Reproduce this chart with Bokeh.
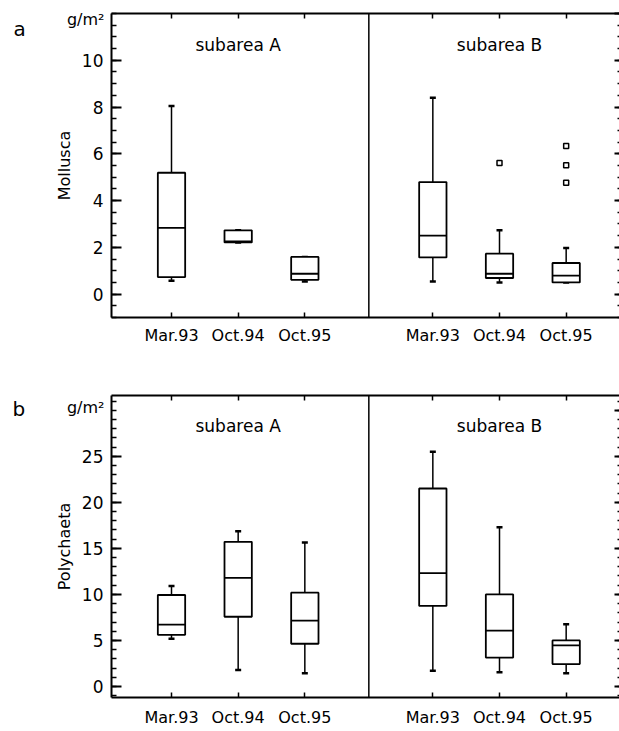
from bokeh.plotting import figure
from bokeh.models import Range1d, FixedTicker, LinearAxis, Span, Label, ColumnDataSource
from bokeh.layouts import column
from bokeh.embed import file_html
from bokeh.resources import INLINE

periods = ["Mar.93", "Oct.94", "Oct.95"]
subareas = ["subarea A", "subarea B"]
group_start = [1.0, 4.92]
divider_x = 3.96

# Mollusca g/m2  [subarea A, subarea B] x [Mar.93, Oct.94, Oct.95]
moll_lo = [[0.57, 2.21, 0.54], [0.54, 0.50, 0.50]]
moll_q1 = [[0.73, 2.21, 0.61], [1.57, 0.69, 0.50]]
moll_med = [[2.83, 2.25, 0.87], [2.50, 0.87, 0.79]]
moll_q3 = [[5.19, 2.73, 1.59], [4.79, 1.73, 1.33]]
moll_hi = [[8.04, 2.73, 1.59], [8.40, 2.73, 1.97]]
moll_out = [[[], [], []], [[], [5.61], [6.33, 5.51, 4.76]]]

# Polychaeta g/m2
poly_lo = [[5.18, 1.79, 1.43], [1.71, 1.54, 1.43]]
poly_q1 = [[5.61, 7.57, 4.64], [8.75, 3.14, 2.43]]
poly_med = [[6.71, 11.79, 7.14], [12.30, 6.07, 4.46]]
poly_q3 = [[9.93, 15.71, 10.18], [21.50, 10.00, 5.00]]
poly_hi = [[10.90, 16.86, 15.64], [25.50, 17.30, 6.75]]
poly_out = [[[], [], []], [[], [], []]]

moll_ticks = [0, 2, 4, 6, 8, 10]
moll_right_ticks = [0, 2, 4, 6, 8, 10, 12]
poly_ticks = [0, 5, 10, 15, 20, 25]
poly_right_ticks = [0, 5, 10, 15, 20, 25, 30]

FONT = "DejaVu Sans"
BOX_W = 0.41
XR = (0.1, 7.72)


def make_panel(lo, q1, med, q3, hi, outl, ylim, yticks, yminor, rticks, rminor,
               ylabel, letter, title_y, height, btop, bbot, unit_off, letter_off, xstand):
    xs, los, q1s, meds, q3s, his = [], [], [], [], [], []
    ox, oy = [], []
    for g in range(2):
        for i in range(3):
            x = group_start[g] + i
            xs.append(x)
            los.append(lo[g][i]); q1s.append(q1[g][i]); meds.append(med[g][i])
            q3s.append(q3[g][i]); his.append(hi[g][i])
            for v in outl[g][i]:
                ox.append(x); oy.append(v)
    src = ColumnDataSource(dict(x=xs, lo=los, q1=q1s, med=meds, q3=q3s, hi=his,
                                x0=[x - BOX_W / 2 for x in xs], x1=[x + BOX_W / 2 for x in xs]))

    p = figure(width=619, height=height, x_range=Range1d(*XR), y_range=Range1d(*ylim),
               output_backend="svg", toolbar_location=None,
               min_border_left=110, min_border_right=0, min_border_top=btop, min_border_bottom=bbot)
    p.outline_line_color = None
    p.xgrid.visible = False
    p.ygrid.visible = False
    p.background_fill_color = "white"

    # bottom axis
    xa = p.xaxis[0]
    xa.ticker = FixedTicker(ticks=xs)
    xa.major_label_overrides = {x: periods[k % 3] for k, x in enumerate(xs)}
    xa.major_tick_in = 5
    xa.major_tick_out = 0
    xa.minor_tick_in = 0
    xa.minor_tick_out = 0
    xa.axis_line_width = 2
    xa.major_tick_line_width = 1.5
    xa.major_label_text_font = FONT
    xa.major_label_text_font_size = "16px"
    xa.major_label_text_color = "black"
    xa.major_label_standoff = xstand

    # left axis
    ya = p.yaxis[0]
    ya.ticker = FixedTicker(ticks=yticks, minor_ticks=yminor)
    ya.major_tick_in = 10
    ya.major_tick_out = 0
    ya.minor_tick_in = 5
    ya.minor_tick_out = 0
    ya.axis_line_width = 2
    ya.major_tick_line_width = 2
    ya.minor_tick_line_width = 1.5
    ya.major_label_text_font = FONT
    ya.major_label_text_font_size = "17px"
    ya.major_label_text_color = "black"
    ya.major_label_standoff = 8
    ya.axis_label = ylabel
    ya.axis_label_text_font = FONT
    ya.axis_label_text_font_size = "16px"
    ya.axis_label_text_font_style = "normal"
    ya.axis_label_text_color = "black"
    ya.axis_label_standoff = 5

    # top axis (ticks only, labels not drawn)
    top = LinearAxis(ticker=FixedTicker(ticks=xs), major_tick_in=5, major_tick_out=0,
                     minor_tick_in=0, minor_tick_out=0, major_label_text_font_size="0px",
                     major_label_text_color=None, major_label_standoff=0,
                     axis_line_width=2, major_tick_line_width=1.5)
    p.add_layout(top, "above")

    # right axis (ticks only, frame edge outside the picture)
    right = LinearAxis(ticker=FixedTicker(ticks=rticks, minor_ticks=rminor), major_tick_in=5,
                       major_tick_out=0, minor_tick_in=2, minor_tick_out=0,
                       major_label_text_font_size="0px", major_label_text_color=None,
                       major_label_standoff=0, axis_line_color=None,
                       major_tick_line_width=2, minor_tick_line_width=1.5)
    p.add_layout(right, "right")

    p.add_layout(Span(location=divider_x, dimension="height", line_color="black", line_width=1.5))

    # whiskers
    p.segment(x0="x", y0="q3", x1="x", y1="hi", source=src, line_color="black", line_width=1.5)
    p.segment(x0="x", y0="lo", x1="x", y1="q1", source=src, line_color="black", line_width=1.5)
    p.scatter(x="x", y="hi", source=src, marker="dash", size=6, line_color="black", line_width=2.5)
    p.scatter(x="x", y="lo", source=src, marker="dash", size=6, line_color="black", line_width=2.5)
    # boxes
    p.vbar(x="x", width=BOX_W, bottom="q1", top="q3", source=src, fill_color="white",
           line_color="black", line_width=1.8)
    p.segment(x0="x0", y0="med", x1="x1", y1="med", source=src, line_color="black", line_width=1.8)
    if ox:
        p.scatter(x=ox, y=oy, marker="square", size=5, fill_color="white",
                  line_color="black", line_width=1.5)

    for g in range(2):
        p.add_layout(Label(x=group_start[g] + 1, y=title_y, text=subareas[g], text_align="center",
                           text_baseline="middle", text_font=FONT, text_font_size="17px",
                           text_color="black"))

    # unit and panel letter in the left side panel (outside the frame, not clipped)
    p.add_layout(Label(x=0, y=ylim[1], x_units="screen", x_offset=91, y_offset=unit_off,
                       text="g/m²", text_align="right", text_baseline="middle", text_font=FONT,
                       text_font_size="16px", text_color="black"), "left")
    p.add_layout(Label(x=0, y=ylim[1], x_units="screen", x_offset=12, y_offset=letter_off,
                       text=letter, text_align="left", text_baseline="alphabetic", text_font=FONT,
                       text_font_size="20px", text_color="black"), "left")
    return p


moll_minor = [v / 2 for v in range(-2, 25)]
poly_minor = list(range(-1, 32))

p1 = make_panel(moll_lo, moll_q1, moll_med, moll_q3, moll_hi, moll_out, (-1.0, 12.0),
                moll_ticks, moll_minor, moll_right_ticks, moll_minor, "Mollusca", "a", 10.65,
                348, 13, 31, -6, -15, 8)
p2 = make_panel(poly_lo, poly_q1, poly_med, poly_q3, poly_hi, poly_out, (-1.2, 31.6),
                poly_ticks, poly_minor, poly_right_ticks, poly_minor, "Polychaeta", "b", 28.3,
                381, 47, 28, -12, -13, 10)

layout = column(p1, p2, spacing=0)
open("out.html", "w").write(file_html(layout, INLINE))
